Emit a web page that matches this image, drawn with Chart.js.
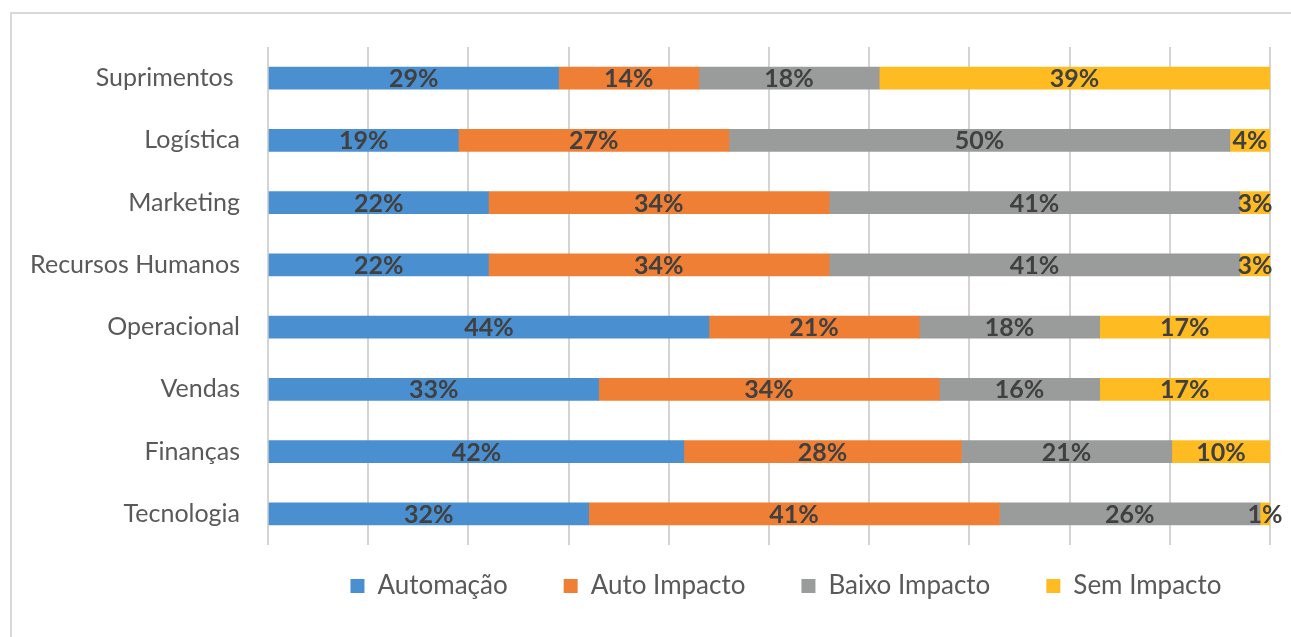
<!DOCTYPE html>
<html>
<head>
<meta charset="utf-8">
<script src="https://cdn.jsdelivr.net/npm/chart.js@4.4.0/dist/chart.umd.min.js"></script>
<style>
html,body{margin:0;padding:0;background:#fff;width:1291px;height:637px;overflow:hidden;}
#wrap{position:absolute;left:0;top:0;width:1291px;height:637px;}
#frame{position:absolute;left:10px;top:12px;width:1400px;height:700px;border-left:2px solid #d9d9d9;border-top:2px solid #d9d9d9;box-sizing:border-box;}
canvas{position:absolute;left:0;top:0;}
</style>
</head>
<body>
<div id="wrap">
<div id="frame"></div>
<canvas id="c" width="1291" height="637"></canvas>
</div>
<script>
const categories = ['Suprimentos ', 'Logística', 'Marketing', 'Recursos Humanos', 'Operacional', 'Vendas', 'Finanças', 'Tecnologia'];
const automacao    = [29, 19, 22, 22, 44, 33, 41.5, 32];
const autoImpacto  = [14, 27, 34, 34, 21, 34, 27.7, 41];
const baixoImpacto = [18, 50, 41, 41, 18, 16, 21, 26];
const semImpacto   = [39, 4, 3, 3, 17, 17, 9.8, 1];
const seriesNames  = ['Automação', 'Auto Impacto', 'Baixo Impacto', 'Sem Impacto'];
const seriesColors = ['#4A90D0', '#F07F36', '#9A9C9C', '#FFBC22'];

const FONT = 'Lato, "Open Sans", sans-serif';

const labelPlugin = {
  id: 'segLabels',
  afterDatasetsDraw(chart) {
    const ctx = chart.ctx;
    ctx.save();
    ctx.font = 'bold 25px ' + FONT;
    ctx.fillStyle = '#404040';
    ctx.textAlign = 'center';
    ctx.textBaseline = 'middle';
    chart.data.datasets.forEach((ds, i) => {
      const meta = chart.getDatasetMeta(i);
      meta.data.forEach((bar, j) => {
        const v = ds.data[j];
        const cx = (bar.x + bar.base) / 2;
        ctx.fillText(Math.round(v) + '%', cx, bar.y + 1);
      });
    });
    ctx.restore();
  }
};

const legendShift = {
  id: 'legendShift',
  afterLayout(chart) {
    const lg = chart.legend;
    if (lg) {
      lg.left = chart.chartArea.left + 17; lg.right = chart.chartArea.right + 17;
      lg.top -= 5; lg.bottom -= 5;
    }
  }
};

const datasets = [automacao, autoImpacto, baixoImpacto, semImpacto].map((d, i) => ({
  label: seriesNames[i],
  data: d,
  backgroundColor: seriesColors[i],
  borderWidth: 0,
  barThickness: 22
}));

new Chart(document.getElementById('c'), {
  type: 'bar',
  data: { labels: categories, datasets },
  options: {
    indexAxis: 'y',
    responsive: false,
    animation: false,
    devicePixelRatio: 1,
    layout: { padding: { left: 0, right: 21, top: 47, bottom: 0 } },
    scales: {
      x: {
        stacked: true, min: 0, max: 100,
        ticks: { display: false, stepSize: 10 },
        grid: { color: '#d4d4d4', lineWidth: 2, drawTicks: false },
        border: { display: false },
        afterFit(s) { s.height = -23; }
      },
      y: {
        stacked: true,
        grid: { display: false, drawTicks: false },
        border: { display: false },
        ticks: { color: '#595959', font: { family: FONT, size: 25 }, padding: 28 },
        afterFit(s) { s.width = 268; }
      }
    },
    plugins: {
      legend: {
        position: 'bottom',
        labels: {
          color: '#595959',
          font: { family: FONT, size: 26 },
          boxWidth: 14, boxHeight: 14,
          padding: 56
        }
      },
      tooltip: { enabled: false },
      title: { display: false }
    }
  },
  plugins: [labelPlugin, legendShift]
});
</script>
</body>
</html>
